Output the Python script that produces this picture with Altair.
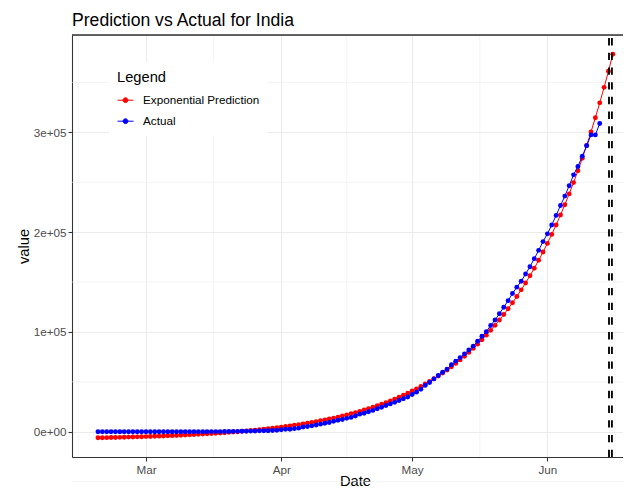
import altair as alt
import pandas as pd

# ---------------- data ----------------
start_date = "2020-02-19"

prediction_values = [
    -6090, -6002, -5910, -5814, -5714, -5608, -5498, -5383, -5263, -5137, -5005,
    -4867, -4723, -4572, -4414, -4249, -4077, -3896, -3707, -3509, -3303,
    -3087, -2860, -2624, -2376, -2117, -1847, -1564, -1267, -957, -633,
    -294, 61, 432, 820, 1226, 1650, 2095, 2559, 3045, 3554,
    4085, 4642, 5224, 5832, 6469, 7135, 7831, 8560, 9322, 10120,
    10954, 11826, 12739, 13693, 14692, 15736, 16829, 17971, 19167, 20417,
    21725, 23093, 24524, 26022, 27587, 29225, 30939, 32731, 34606, 36567,
    38618, 40764, 43008, 45356, 47812, 50381, 53068, 55879, 58819, 61895,
    65112, 68477, 71997, 75679, 79531, 83560, 87774, 92182, 96794, 101617,
    106662, 111940, 117460, 123235, 129276, 135594, 142204, 149117, 156349, 163913,
    171826, 180103, 188761, 197818, 207291, 217200, 227566, 238409, 249750, 261614,
    274024, 287005, 300583, 314787, 329643, 345183, 361440, 378443,
]

actual_values = [
    3, 3, 3, 3, 3, 3, 3, 3, 3, 3, 3, 3,
    5, 5, 28, 30, 31, 34, 39, 43, 56, 62, 73, 82, 102, 113, 119, 142, 156, 194,
    244, 330, 396, 499, 536, 657, 727, 887, 987, 1024, 1251, 1397,
    1998, 2543, 2567, 3082, 3588, 4778, 5311, 5916, 6725, 7598, 8446, 9205,
    10453, 11487, 12322, 13430, 14352, 15722, 17615, 18539, 20080, 21370, 23077,
    24530, 26283, 27890, 29451, 31324, 33062, 34863,
    37257, 39699, 42505, 46437, 49400, 52987, 56351, 59695, 62808, 67161, 70768,
    74292, 78055, 81997, 85784, 90648, 95698, 100328, 106475, 112028, 118226,
    124794, 131423, 138536, 144950, 150793, 158086, 165386, 173491, 181827, 190609,
    198370, 207191, 216824, 226713, 236184, 246622, 257486, 265928, 276146,
    286605, 297535, 297535, 308993,
]

series_names = ["Exponential Prediction", "Actual"]
series_colors = ["#FF0000", "#0000FF"]

vline_dates = ["2020-06-15T03:00:00Z", "2020-06-15T19:00:00Z"]
minor_x_dates = ["2020-02-14T12:00:00Z", "2020-03-16T12:00:00Z", "2020-04-16T00:00:00Z",
                 "2020-05-16T12:00:00Z", "2020-06-16T12:00:00Z"]
minor_y_values = [-50000, 50000, 150000, 250000, 350000]
y_tick_values = [0, 100000, 200000, 300000]
x_tick_months = [3, 4, 5, 6]
y_domain = [-25317, 397670]

# ---------------- frames ----------------
def iso_dates(n):
    return [d.strftime("%Y-%m-%dT%H:%M:%SZ") for d in pd.date_range(start_date, periods=n, freq="D")]

df = pd.concat([
    pd.DataFrame({"date": iso_dates(len(prediction_values)), "value": prediction_values,
                  "series": series_names[0]}),
    pd.DataFrame({"date": iso_dates(len(actual_values)), "value": actual_values,
                  "series": series_names[1]}),
], ignore_index=True)

vline_df = pd.DataFrame({"date": vline_dates})
minor_x_df = pd.DataFrame({"date": minor_x_dates})
minor_y_df = pd.DataFrame({"value": minor_y_values})

FONT = "Liberation Sans"
W, H = 551, 422

x_scale = alt.Scale(type="utc",
                    domain=[alt.DateTime(year=2020, month=2, date=13, hours=1, utc=True),
                            alt.DateTime(year=2020, month=6, date=18, hours=8, utc=True)])
y_scale = alt.Scale(domain=y_domain, nice=False, zero=False)

x_axis = alt.Axis(
    values=[alt.DateTime(year=2020, month=m, date=1, utc=True) for m in x_tick_months],
    labelExpr="utcFormat(datum.value, '%b')", title="Date",
    titleX=283, titleY=28, titleAlign="center", titleBaseline="alphabetic",
    titleFontSize=14.7, titleFontWeight="normal", titleColor="black", titleFont=FONT,
    labelFontSize=11.7, labelColor="#4D4D4D", labelFont=FONT, labelPadding=3,
    tickColor="#333333", tickSize=4, tickWidth=1.07,
    domain=True, domainColor="#333333", domainWidth=1.07,
    grid=True, gridColor="#EBEBEB", gridWidth=1.07,
)
y_axis = alt.Axis(
    values=y_tick_values,
    labelExpr="datum.value == 0 ? '0e+00' : format(datum.value / 100000, 'd') + 'e+05'",
    title="value", titleX=-44, titleY=211, titleAngle=-90, titleAlign="center",
    titleBaseline="alphabetic",
    titleFontSize=14.7, titleFontWeight="normal", titleColor="black", titleFont=FONT,
    labelFontSize=11.7, labelColor="#4D4D4D", labelFont=FONT, labelPadding=2,
    tickColor="#333333", tickSize=4, tickWidth=1.07,
    domain=True, domainColor="#333333", domainWidth=1.07,
    grid=True, gridColor="#EBEBEB", gridWidth=1.07,
)

legend_symbol = "M-1,0L1,0M0.3,0A0.3,0.3,0,1,1,-0.3,0A0.3,0.3,0,1,1,0.3,0Z"

color_enc = alt.Color(
    "series:N",
    scale=alt.Scale(domain=series_names, range=series_colors),
    legend=alt.Legend(
        title="Legend", orient="none", legendX=37, legendY=27,
        fillColor="white", padding=8,
        symbolType=legend_symbol, symbolSize=256, symbolStrokeWidth=1,
        titleFontSize=14.7, titleFont=FONT, titleFontWeight="normal", titleColor="black",
        labelFontSize=11.7, labelFont=FONT, labelColor="black",
        labelOffset=9, rowPadding=5, titlePadding=7,
    ),
)

X = alt.X("date:T", scale=x_scale, axis=x_axis)
Y = alt.Y("value:Q", scale=y_scale, axis=y_axis)

base = alt.Chart(df)

minor_x = alt.Chart(minor_x_df).mark_rule(color="#EBEBEB", strokeWidth=0.55).encode(x=X)
minor_y = alt.Chart(minor_y_df).mark_rule(color="#EBEBEB", strokeWidth=0.55).encode(y=Y)

def series_layers(name):
    sub = base.transform_filter(alt.datum.series == name)
    line = sub.mark_line(strokeWidth=1, clip=True).encode(x=X, y=Y, color=color_enc)
    pts = sub.mark_point(filled=True, size=24, opacity=1, strokeWidth=0,
                         shape="circle").encode(x=X, y=Y, color=color_enc)
    return [line, pts]

vlines = alt.Chart(vline_df).mark_rule(
    color="black", strokeWidth=1.85, strokeDash=[7.35, 7.35]).encode(
    x=X, y=alt.value(H), y2=alt.value(0),
)

# top edge of the panel border (the right edge lies beyond the picture)
top_border = alt.Chart(vline_df).mark_rule(color="#333333", strokeWidth=1.07).encode(
    x=alt.value(0), x2=alt.value(W), y=alt.value(0),
)

chart = alt.layer(
    minor_x, minor_y,
    *series_layers(series_names[0]),
    *series_layers(series_names[1]),
    vlines, top_border,
).properties(
    width=W, height=H,
    autosize=alt.AutoSizeParams(type="none"),
    padding={"left": 64, "top": 27, "right": 0, "bottom": 31},
    title=alt.TitleParams(
        "Prediction vs Actual for India", anchor="start", fontSize=17.6, font=FONT,
        fontWeight="normal", color="black", offset=4, frame="group",
    ),
).configure_view(
    stroke=None,
).configure(background="white")

chart.save("out.html", embed_options={"renderer": "svg", "actions": False})
